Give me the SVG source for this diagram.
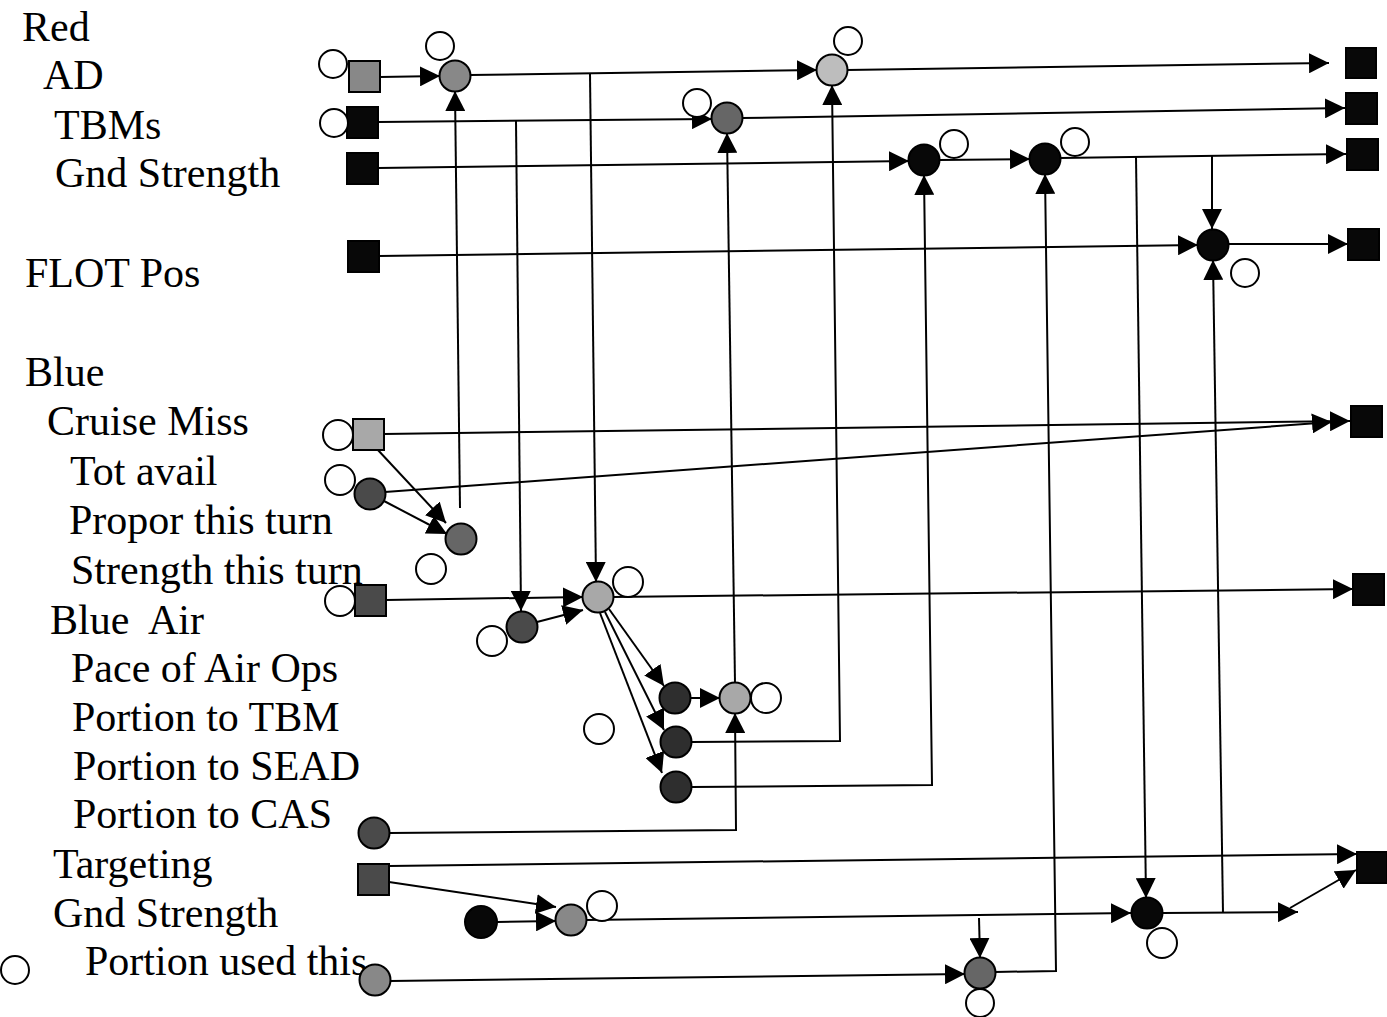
<svg xmlns="http://www.w3.org/2000/svg" width="1387" height="1017" viewBox="0 0 1387 1017">
<style>
text{font-family:"Liberation Serif","Times New Roman",serif;font-size:42px;fill:#000;white-space:pre}
.oc{fill:#fff;stroke:#000;stroke-width:2}
.n{stroke:#000;stroke-width:2}
.k{fill:#080808}
.d1{fill:#2e2e2e}
.d2{fill:#4a4a4a}
.d3{fill:#666}
.m{fill:#888}
.l{fill:#a8a8a8}
.v{fill:#bdbdbd}
#edges line,#edges path{stroke:#000;stroke-width:2;fill:none;marker-end:url(#ah)}
</style>
<defs>
<marker id="ah" markerUnits="userSpaceOnUse" viewBox="0 0 20 20" refX="20" refY="10" markerWidth="20" markerHeight="20" orient="auto">
<path d="M0,0 L20,10 L0,20 z" fill="#000"/>
</marker>
</defs>
<rect width="1387" height="1017" fill="#fff"/>
<g id="labels">
<text x="22" y="41">Red</text>
<text x="43" y="89">AD</text>
<text x="54" y="139">TBMs</text>
<text x="55" y="187">Gnd Strength</text>
<text x="25" y="287">FLOT Pos</text>
<text x="25" y="386">Blue</text>
<text x="47" y="435">Cruise Miss</text>
<text x="70" y="485">Tot avail</text>
<text x="69" y="534">Propor this turn</text>
<text x="71" y="584">Strength this turn</text>
<text x="50" y="634" xml:space="preserve">Blue  Air</text>
<text x="71" y="682">Pace of Air Ops</text>
<text x="72" y="731">Portion to TBM</text>
<text x="73" y="780">Portion to SEAD</text>
<text x="73" y="828">Portion to CAS</text>
<text x="53" y="878">Targeting</text>
<text x="53" y="927">Gnd Strength</text>
<text x="85" y="975">Portion used this</text>
</g>
<g id="edges">
<line x1="380" y1="77" x2="440" y2="76"/>
<line x1="470" y1="75" x2="817" y2="70"/>
<line x1="847" y1="70" x2="1329" y2="63"/>
<line x1="590" y1="74" x2="596" y2="582"/>
<line x1="378" y1="122" x2="712" y2="119"/>
<line x1="742" y1="118" x2="1345" y2="108"/>
<line x1="516" y1="121" x2="521" y2="611"/>
<line x1="378" y1="168" x2="909" y2="161"/>
<line x1="939" y1="160" x2="1030" y2="159"/>
<line x1="1060" y1="158" x2="1346" y2="154"/>
<line x1="1136" y1="157" x2="1146" y2="898"/>
<line x1="1212" y1="156" x2="1212" y2="229"/>
<line x1="379" y1="256" x2="1198" y2="245"/>
<line x1="1228" y1="244" x2="1348" y2="244"/>
<line x1="1223" y1="913" x2="1213" y2="260"/>
<line x1="384" y1="434" x2="1350" y2="421"/>
<line x1="385" y1="492" x2="1332" y2="422"/>
<line x1="377" y1="449" x2="446" y2="523"/>
<line x1="384" y1="501" x2="447" y2="534"/>
<line x1="460" y1="508" x2="455" y2="91"/>
<line x1="386" y1="600" x2="583" y2="597"/>
<line x1="613" y1="597" x2="1353" y2="589"/>
<line x1="537" y1="622" x2="583" y2="610"/>
<line x1="609" y1="609" x2="664" y2="686"/>
<line x1="605" y1="612" x2="664" y2="730"/>
<line x1="600" y1="613" x2="662" y2="773"/>
<line x1="690" y1="698" x2="720" y2="698"/>
<line x1="735" y1="683" x2="727" y2="133"/>
<path d="M691,742 L840,741 L832,85"/>
<path d="M691,787 L932,785 L924,175"/>
<path d="M389,833 L736,830 L735,713"/>
<line x1="389" y1="866" x2="1357" y2="854"/>
<line x1="389" y1="882" x2="556" y2="907"/>
<line x1="497" y1="922" x2="556" y2="921"/>
<line x1="586" y1="920" x2="1131" y2="913"/>
<line x1="979" y1="918" x2="980" y2="958"/>
<line x1="390" y1="981" x2="965" y2="974"/>
<path d="M995,972 L1056,971 L1045,174"/>
<line x1="1162" y1="913" x2="1298" y2="912"/>
<line x1="1290" y1="908" x2="1356" y2="870"/>
</g>
<g id="n_ad_sq"><rect class="n m" x="349" y="61" width="31" height="31"/><circle class="oc" cx="333" cy="64" r="14"/></g>
<g id="n_tbm_sq"><rect class="n k" x="347" y="107" width="31" height="31"/><circle class="oc" cx="334" cy="123" r="14"/></g>
<g id="n_gnd_sq"><rect class="n k" x="347" y="153" width="31" height="31"/></g>
<g id="n_flot_sq"><rect class="n k" x="348" y="241" width="31" height="31"/></g>
<g id="n_cm_sq"><rect class="n l" x="353" y="419" width="31" height="31"/><circle class="oc" cx="338" cy="435" r="15"/></g>
<g id="n_tot_avail"><circle class="n d2" cx="370" cy="494" r="15.5"/><circle class="oc" cx="340" cy="480" r="15"/></g>
<g id="n_propor"><circle class="n d3" cx="461" cy="539" r="15.5"/><circle class="oc" cx="431" cy="569" r="15"/></g>
<g id="n_str_sq"><rect class="n d2" x="355" y="585" width="31" height="31"/><circle class="oc" cx="340" cy="601" r="15"/></g>
<g id="n_blue_air"><circle class="n d2" cx="522" cy="627" r="15.5"/><circle class="oc" cx="492" cy="641" r="15"/></g>
<g id="n_air_hub"><circle class="n l" cx="598" cy="597" r="15.5"/><circle class="oc" cx="628" cy="582" r="15"/></g>
<g id="n_pace"><circle class="n d1" cx="675" cy="698" r="15.5"/></g>
<g id="n_pace_out"><circle class="n l" cx="735" cy="698" r="15.5"/><circle class="oc" cx="766" cy="698" r="15"/></g>
<g id="n_free1"><circle class="oc" cx="599" cy="729" r="15"/></g>
<g id="n_portion_tbm"><circle class="n d1" cx="676" cy="742" r="15.5"/></g>
<g id="n_portion_sead"><circle class="n d1" cx="676" cy="787" r="15.5"/></g>
<g id="n_cas"><circle class="n d2" cx="374" cy="833" r="15.5"/></g>
<g id="n_tgt_sq"><rect class="n d2" x="358" y="864" width="31" height="31"/></g>
<g id="n_gnd2"><circle class="n k" cx="481" cy="922" r="16"/></g>
<g id="n_gnd_hub"><circle class="n m" cx="571" cy="920" r="15.5"/><circle class="oc" cx="602" cy="906" r="15"/></g>
<g id="n_portion_used"><circle class="n m" cx="375" cy="980" r="15.5"/></g>
<g id="n_used_hub"><circle class="n d3" cx="980" cy="973" r="15.5"/><circle class="oc" cx="980" cy="1003" r="14"/></g>
<g id="n_gnd_out"><circle class="n k" cx="1147" cy="913" r="15.5"/><circle class="oc" cx="1162" cy="943" r="15"/></g>
<g id="n_ad_hub"><circle class="n m" cx="455" cy="76" r="15.5"/><circle class="oc" cx="440" cy="46" r="14"/></g>
<g id="n_ad_out"><circle class="n v" cx="832" cy="70" r="15.5"/><circle class="oc" cx="848" cy="41" r="14"/></g>
<g id="n_tbm_hub"><circle class="n d3" cx="727" cy="118" r="15.5"/><circle class="oc" cx="697" cy="103" r="14"/></g>
<g id="n_gnd_b1"><circle class="n k" cx="924" cy="160" r="15.5"/><circle class="oc" cx="954" cy="144" r="14"/></g>
<g id="n_gnd_b2"><circle class="n k" cx="1045" cy="159" r="15.5"/><circle class="oc" cx="1075" cy="142" r="14"/></g>
<g id="n_flot_hub"><circle class="n k" cx="1213" cy="245" r="15.5"/><circle class="oc" cx="1245" cy="273" r="14"/></g>
<g id="n_out_ad"><rect class="n k" x="1346" y="48" width="30" height="30"/></g>
<g id="n_out_tbm"><rect class="n k" x="1346" y="93" width="31" height="31"/></g>
<g id="n_out_gnd"><rect class="n k" x="1347" y="139" width="31" height="31"/></g>
<g id="n_out_flot"><rect class="n k" x="1348" y="229" width="31" height="31"/></g>
<g id="n_out_cm"><rect class="n k" x="1351" y="406" width="31" height="31"/></g>
<g id="n_out_str"><rect class="n k" x="1353" y="574" width="31" height="31"/></g>
<g id="n_out_tgt"><rect class="n k" x="1357" y="852" width="30" height="31"/></g>
<g id="n_free2"><circle class="oc" cx="15" cy="970" r="14"/></g>
</svg>
